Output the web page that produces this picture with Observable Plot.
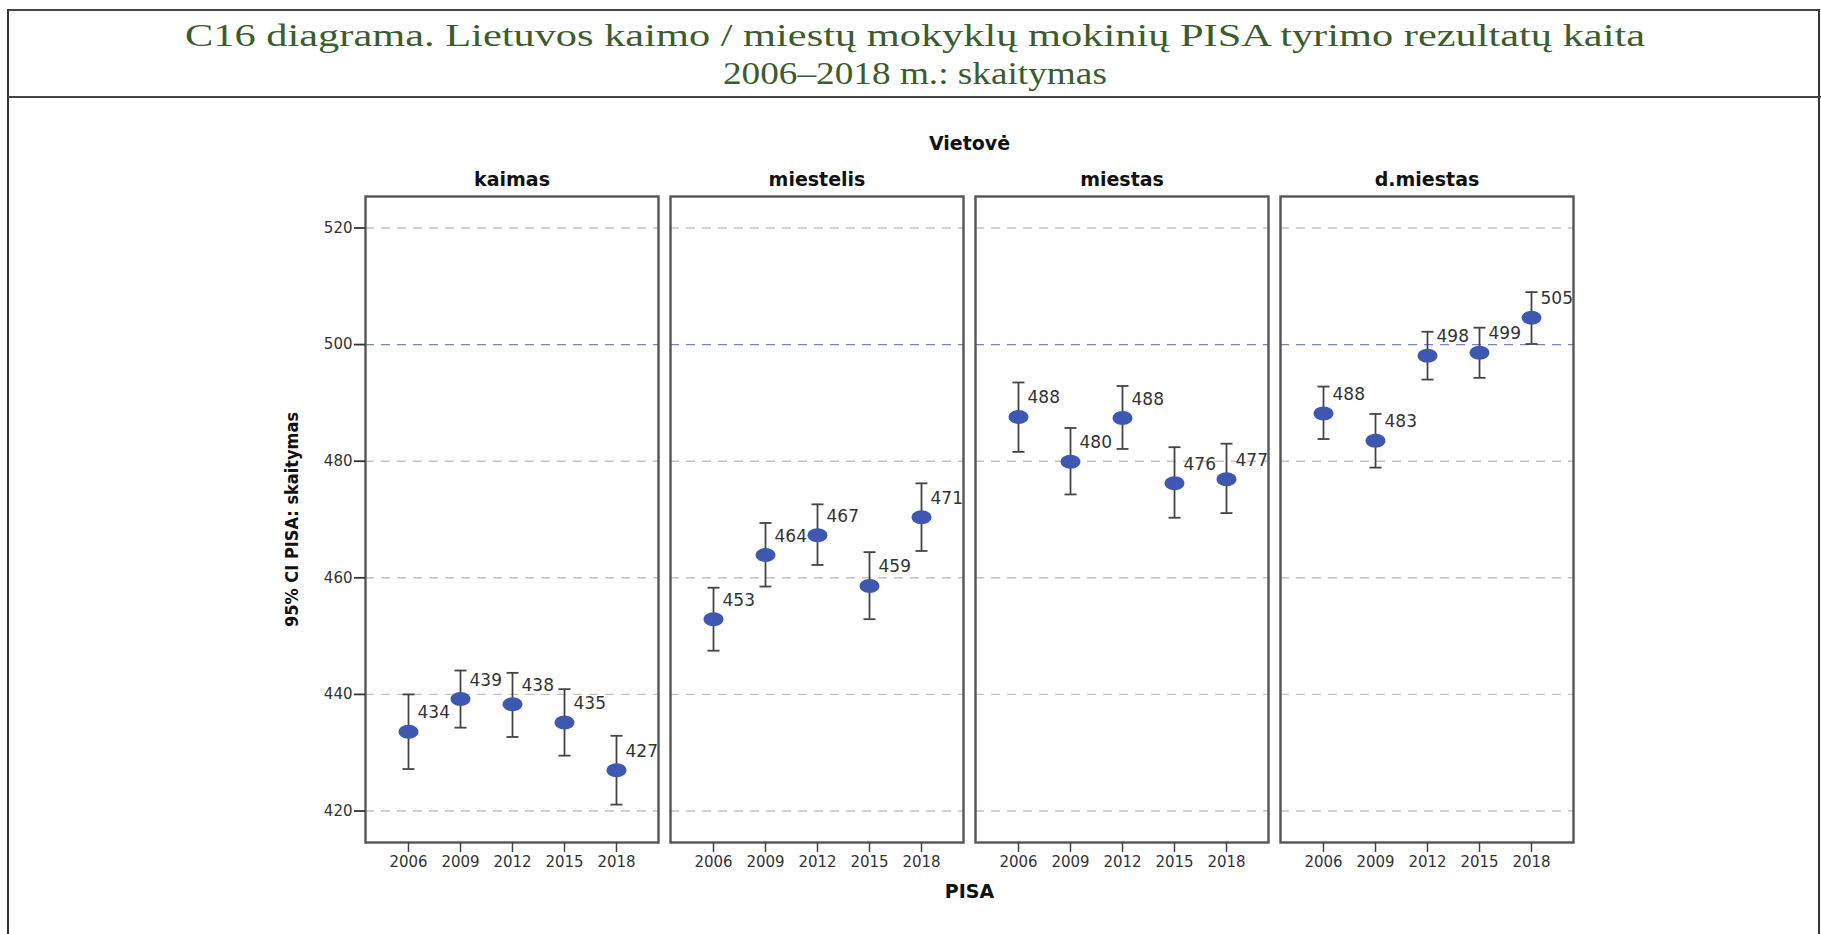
<!DOCTYPE html>
<html>
<head>
<meta charset="utf-8">
<script src="https://cdn.jsdelivr.net/npm/d3@7"></script>
<script src="https://cdn.jsdelivr.net/npm/@observablehq/plot@0.6"></script>
<style>
  html, body { margin: 0; padding: 0; background: #fff; }
  body { width: 1821px; height: 934px; position: relative; overflow: hidden; }
  #box { position: absolute; left: 7px; top: 9px; width: 1809px; height: 940px;
         border-left: 2px solid #333; border-top: 2px solid #444; border-right: 2px solid #333; }
  #sep { position: absolute; left: 8px; top: 96px; width: 1813px; height: 0; border-top: 2px solid #444; }
  #title { position: absolute; left: 0; top: 16px; width: 1830px; text-align: center;
           font-family: "Liberation Serif", "Times New Roman", serif; font-size: 32px; line-height: 38px;
           color: #3d5c2e; }
  #title span { display: inline-block; white-space: nowrap; transform-origin: center; }
  #chart { position: absolute; left: 0; top: 97px; }
</style>
</head>
<body>
<div id="box"></div>
<div id="sep"></div>
<div id="title"><span id="t1">C16 diagrama. Lietuvos kaimo / miestų mokyklų mokinių PISA tyrimo rezultatų kaita</span><br><span id="t2">2006–2018 m.: skaitymas</span></div>
<div id="chart"></div>
<script>
// ---- data ----
const locations = ["kaimas", "miestelis", "miestas", "d.miestas"];
const years = ["2006", "2009", "2012", "2015", "2018"];
const yTicks = [420, 440, 460, 480, 500, 520];

const meanKaimas    = [433.6, 439.2, 438.3, 435.2, 427.0];
const loKaimas      = [427.2, 434.3, 432.7, 429.5, 421.1];
const hiKaimas      = [440.0, 444.1, 443.7, 440.9, 432.9];
const lblKaimas     = ["434", "439", "438", "435", "427"];

const meanMiestelis = [452.9, 463.9, 467.3, 458.6, 470.4];
const loMiestelis   = [447.5, 458.5, 462.2, 452.9, 464.6];
const hiMiestelis   = [458.3, 469.4, 472.6, 464.4, 476.2];
const lblMiestelis  = ["453", "464", "467", "459", "471"];

const meanMiestas   = [487.6, 479.9, 487.4, 476.2, 476.9];
const loMiestas     = [481.6, 474.3, 482.1, 470.3, 471.1];
const hiMiestas     = [493.5, 485.7, 492.9, 482.4, 483.0];
const lblMiestas    = ["488", "480", "488", "476", "477"];

const meanDMiestas  = [488.2, 483.5, 498.1, 498.6, 504.6];
const loDMiestas    = [483.8, 478.9, 494.0, 494.3, 500.1];
const hiDMiestas    = [492.8, 488.1, 502.2, 502.9, 509.0];
const lblDMiestas   = ["488", "483", "498", "499", "505"];

const series = [
  [meanKaimas, loKaimas, hiKaimas, lblKaimas],
  [meanMiestelis, loMiestelis, hiMiestelis, lblMiestelis],
  [meanMiestas, loMiestas, hiMiestas, lblMiestas],
  [meanDMiestas, loDMiestas, hiDMiestas, lblDMiestas]
];
const rows = [];
series.forEach(([m, lo, hi, lb], i) => years.forEach((yr, j) => rows.push({
  loc: locations[i], year: yr, mean: m[j], lo: lo[j], hi: hi[j], label: lb[j]
})));

// ---- symbols ----
const ellipseSymbol = {
  draw(ctx, size) {
    const r = Math.sqrt(size / Math.PI), rx = r * 1.42, ry = r, k = 0.5523;
    ctx.moveTo(rx, 0);
    ctx.bezierCurveTo(rx, ry * k, rx * k, ry, 0, ry);
    ctx.bezierCurveTo(-rx * k, ry, -rx, ry * k, -rx, 0);
    ctx.bezierCurveTo(-rx, -ry * k, -rx * k, -ry, 0, -ry);
    ctx.bezierCurveTo(rx * k, -ry, rx, -ry * k, rx, 0);
    ctx.closePath();
  }
};
const capSymbol = {
  draw(ctx, size) {
    const r = Math.sqrt(size / Math.PI);
    ctx.moveTo(-r, 0);
    ctx.lineTo(r, 0);
  }
};

const sans = "DejaVu Sans, Verdana, sans-serif";
const narrow = "'Liberation Sans Narrow', 'DejaVu Sans Condensed', 'Arial Narrow', 'DejaVu Sans', sans-serif";

const chart = Plot.plot({
  width: 1821,
  height: 837,
  marginTop: 99,
  marginBottom: 92,
  marginLeft: 363,
  marginRight: 246,
  style: { fontFamily: sans, background: "transparent", color: "#333" },
  fx: { domain: locations, paddingInner: 0.039, paddingOuter: 0, align: 0.5 },
  x: { type: "point", domain: years, padding: 0.79 },
  y: { domain: [414.6, 525.4] },
  marks: [
    Plot.ruleY(yTicks, {
      y: d => d,
      stroke: d => d === 500 ? "#7384c6" : "#c2c2c2",
      strokeWidth: 1.4,
      strokeDasharray: "9,7"
    }),
    Plot.frame({ stroke: "#555", strokeWidth: 2.4 }),
    Plot.axisFx({
      anchor: "top", tickSize: 0, tickPadding: 11, fontSize: 19, fontWeight: "bold",
      fill: "#111", label: "Vietovė", labelAnchor: "center", labelOffset: 60, labelArrow: false
    }),
    Plot.axisFx({
      anchor: "bottom", ticks: [], tickSize: 0, fontSize: 19, fontWeight: "bold",
      fill: "#111", label: "PISA", labelAnchor: "center", labelOffset: 55, labelArrow: false
    }),
    Plot.axisX({
      anchor: "bottom", tickSize: 10, tickPadding: 4, fontSize: 15, label: null,
      stroke: "#444", strokeWidth: 1.5, fill: "#333"
    }),
    Plot.axisY({
      anchor: "left", ticks: yTicks, tickSize: 11, tickPadding: 2, fontSize: 15,
      label: null, stroke: "#333", strokeWidth: 1.8, fill: "#333"
    }),
    Plot.axisY({
      anchor: "left", ticks: [], tickSize: 0, fontFamily: narrow, fontSize: 18, fontWeight: "bold",
      fill: "#111", label: "95% CI PISA: skaitymas", labelAnchor: "center", labelOffset: 80, labelArrow: false
    }),
    Plot.ruleX(rows, { fx: "loc", x: "year", y1: "lo", y2: "hi", stroke: "#444", strokeWidth: 1.8 }),
    Plot.dot(rows, { fx: "loc", x: "year", y: "lo", symbol: capSymbol, r: 6, fill: "none", stroke: "#444", strokeWidth: 1.8 }),
    Plot.dot(rows, { fx: "loc", x: "year", y: "hi", symbol: capSymbol, r: 6, fill: "none", stroke: "#444", strokeWidth: 1.8 }),
    Plot.dot(rows, { fx: "loc", x: "year", y: "mean", symbol: ellipseSymbol, r: 7, fill: "#3e58b2", stroke: "none" }),
    Plot.text(rows, {
      fx: "loc", x: "year", y: "mean", text: "label", dx: 9, dy: -19,
      textAnchor: "start", fontSize: 17, fill: "#333", fontFamily: sans
    })
  ]
});
document.getElementById("chart").appendChild(chart);

// fit title lines to the reference widths
function fit(id, target) {
  const el = document.getElementById(id);
  const w = el.getBoundingClientRect().width;
  if (w > 0) el.style.transform = `scaleX(${target / w})`;
}
fit("t1", 1460);
fit("t2", 384);
</script>
</body>
</html>
